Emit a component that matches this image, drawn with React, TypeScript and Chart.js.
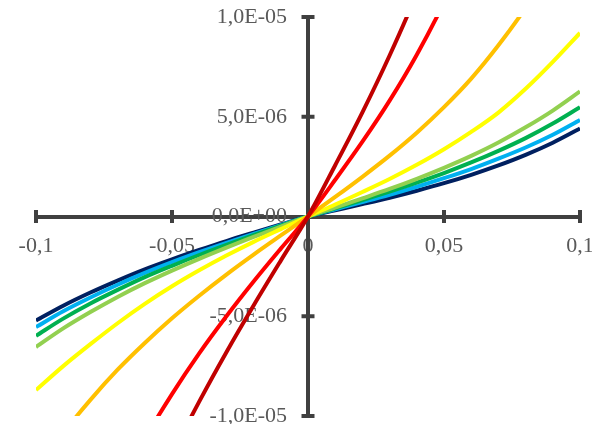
import React, { useEffect, useRef } from 'react';
import { Chart, registerables } from 'chart.js';

Chart.register(...registerables);

// y values are given in units of 1e-6
const Y_UNIT = 1e-6;

const xValues = [
  -0.1, -0.09, -0.08, -0.07, -0.06, -0.05, -0.04, -0.03, -0.02, -0.01, 0,
  0.01, 0.02, 0.03, 0.04, 0.05, 0.06, 0.07, 0.08, 0.09, 0.1,
];

const navySeries = [
  -5.21, -4.47, -3.81, -3.21, -2.65, -2.15, -1.68, -1.23, -0.81, -0.4, 0,
  0.31, 0.62, 0.94, 1.29, 1.67, 2.09, 2.56, 3.09, 3.7, 4.41,
];
const blueSeries = [
  -5.54, -4.75, -4.06, -3.42, -2.83, -2.29, -1.79, -1.32, -0.87, -0.43, 0,
  0.36, 0.72, 1.09, 1.49, 1.92, 2.38, 2.9, 3.46, 4.1, 4.84,
];
const greenSeries = [
  -5.98, -5.12, -4.36, -3.68, -3.04, -2.47, -1.93, -1.42, -0.93, -0.46, 0,
  0.41, 0.82, 1.25, 1.7, 2.18, 2.71, 3.29, 3.93, 4.66, 5.48,
];
const lightGreenSeries = [
  -6.54, -5.61, -4.79, -4.03, -3.34, -2.71, -2.12, -1.56, -1.02, -0.51, 0,
  0.45, 0.91, 1.38, 1.89, 2.44, 3.04, 3.71, 4.47, 5.31, 6.27,
];
const yellowSeries = [
  -8.7, -7.5, -6.4, -5.35, -4.38, -3.5, -2.7, -1.96, -1.27, -0.63, 0,
  0.6, 1.23, 1.88, 2.59, 3.37, 4.24, 5.21, 6.4, 7.75, 9.2,
];
const orangeSeries = [
  -12.77, -10.86, -9.19, -7.68, -6.34, -5.1, -3.97, -2.91, -1.91, -0.95, 0,
  0.98, 1.99, 3.05, 4.2, 5.48, 6.91, 8.58, 10.46, 12.65, 15.16,
];
const redSeries = [
  -23.8, -19.97, -16.6, -13.7, -11.14, -8.9, -6.86, -5.0, -3.26, -1.61, 0,
  1.84, 3.75, 5.81, 8.11, 10.73, 13.78, 17.4, 21.7, 26.9, 33.1,
];
const darkRedSeries = [
  -30.0, -25.5, -21.5, -18.0, -14.82, -11.93, -9.28, -6.8, -4.46, -2.21, 0,
  2.57, 5.22, 8.07, 11.19, 14.76, 18.83, 23.5, 29.3, 35.9, 43.9,
];

const seriesList = [
  navySeries, blueSeries, greenSeries, lightGreenSeries,
  yellowSeries, orangeSeries, redSeries, darkRedSeries,
];
const seriesColors = [
  '#002060', '#00B0F0', '#00B050', '#92D050',
  '#FFFF00', '#FFC000', '#FF0000', '#C00000',
];

const xTickValues = [-0.1, -0.05, 0, 0.05, 0.1];
const xTickLabels = ['-0,1', '-0,05', '0', '0,05', '0,1'];
const yTickValues = [-1e-5, -5e-6, 0, 5e-6, 1e-5];
const yTickLabels = ['-1,0E-05', '-5,0E-06', '0,0E+00', '5,0E-06', '1,0E-05'];

const AXIS_COLOR = '#404040';
const LABEL_COLOR = '#595959';
const FONT_FAMILY = "'Liberation Serif', 'Times New Roman', serif";
const FONT_SIZE = 22;
const Y_LABEL_GAP = 21;

const zeroPadding = (s: any) => {
  s.paddingLeft = 0;
  s.paddingRight = 0;
  s.paddingTop = 0;
  s.paddingBottom = 0;
};

const axisDecor = {
  id: 'axisDecor',
  beforeDatasetsDraw(chart: any) {
    const { ctx, scales } = chart;
    const xs = scales.x;
    const ys = scales.y;
    const x0 = xs.getPixelForValue(0);
    const y0 = ys.getPixelForValue(0);
    ctx.save();
    ctx.strokeStyle = AXIS_COLOR;
    ctx.lineWidth = 4;
    ctx.lineCap = 'butt';
    xs.ticks.forEach((t: any) => {
      if (t.value === 0) return;
      const px = xs.getPixelForValue(t.value);
      ctx.beginPath();
      ctx.moveTo(px, y0 - 6.5);
      ctx.lineTo(px, y0 + 6.5);
      ctx.stroke();
    });
    ys.ticks.forEach((t: any) => {
      if (t.value === 0) return;
      const py = ys.getPixelForValue(t.value);
      ctx.beginPath();
      ctx.moveTo(x0 - 6.5, py);
      ctx.lineTo(x0 + 6.5, py);
      ctx.stroke();
    });
    // y tick labels, placed from the y scale, left of the vertical axis
    ctx.fillStyle = LABEL_COLOR;
    ctx.font = `${FONT_SIZE}px ${FONT_FAMILY}`;
    ctx.textAlign = 'right';
    ctx.textBaseline = 'middle';
    ys.ticks.forEach((t: any, i: number) => {
      const py = ys.getPixelForValue(t.value);
      ctx.fillText(yTickLabels[i], x0 - Y_LABEL_GAP, py);
    });
    ctx.restore();
  },
};

export default function App() {
  const canvasRef = useRef<HTMLCanvasElement | null>(null);

  useEffect(() => {
    document.body.style.margin = '0';
    const canvas = canvasRef.current;
    if (!canvas) return;
    const n = seriesList.length;
    const chart = new Chart(canvas, {
      type: 'line',
      data: {
        datasets: seriesList.map((arr, i) => ({
          data: xValues.map((x, j) => ({ x, y: arr[j] * Y_UNIT })),
          borderColor: seriesColors[i],
          backgroundColor: seriesColors[i],
          borderWidth: 4,
          pointRadius: 0,
          fill: false,
          cubicInterpolationMode: 'monotone' as const,
          clip: 0,
          order: n - 1 - i,
        })),
      },
      options: {
        responsive: false,
        animation: false,
        events: [],
        layout: { padding: { left: 36, right: 12, top: 17, bottom: 8 } },
        plugins: { legend: { display: false }, tooltip: { enabled: false } },
        scales: {
          x: {
            type: 'linear',
            min: -0.1,
            max: 0.1,
            position: { y: 0 } as any,
            afterBuildTicks: (s: any) => {
              s.ticks = xTickValues.map((v) => ({ value: v }));
            },
            afterFit: zeroPadding,
            ticks: {
              callback: (_v: any, i: number) => xTickLabels[i],
              color: LABEL_COLOR,
              font: { family: FONT_FAMILY, size: FONT_SIZE },
              padding: 16.5,
              maxRotation: 0,
              autoSkip: false,
            },
            grid: { drawOnChartArea: false, drawTicks: false },
            border: { display: true, color: AXIS_COLOR, width: 4 },
          },
          y: {
            type: 'linear',
            min: -1e-5,
            max: 1e-5,
            position: { x: 0 } as any,
            afterBuildTicks: (s: any) => {
              s.ticks = yTickValues.map((v) => ({ value: v }));
            },
            afterFit: zeroPadding,
            ticks: { display: false },
            grid: { drawOnChartArea: false, drawTicks: false },
            border: { display: true, color: AXIS_COLOR, width: 4 },
          },
        },
      },
      plugins: [axisDecor],
    });
    return () => chart.destroy();
  }, []);

  return (
    <div style={{ position: 'absolute', left: 0, top: 0, width: 592, height: 424 }}>
      <canvas ref={canvasRef} width={592} height={424} />
    </div>
  );
}
